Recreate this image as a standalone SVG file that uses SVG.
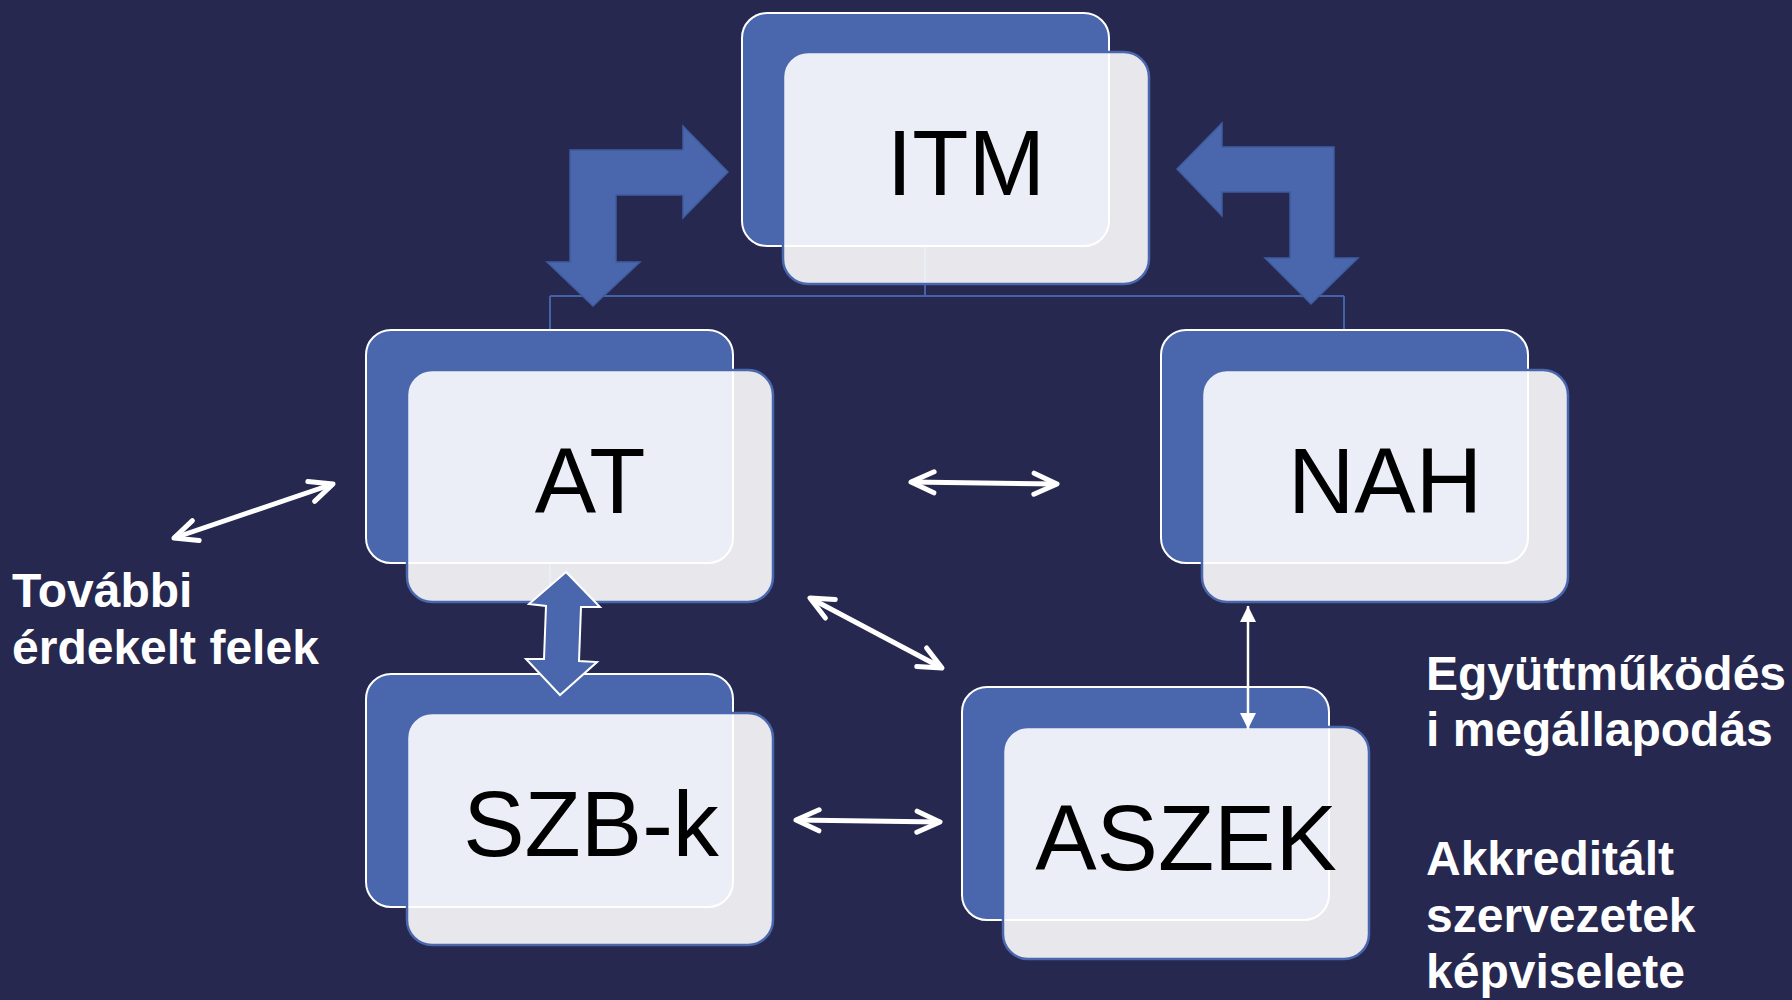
<svg xmlns="http://www.w3.org/2000/svg" width="1792" height="1000" viewBox="0 0 1792 1000">
<defs>
<style>
.back{fill:#4A67AD;stroke:#FFFFFF;stroke-width:2}
.front{fill:#FFFFFF;fill-opacity:0.89;stroke:#4A67AD;stroke-width:2.5}
.lbl{font-family:"Liberation Sans",Arial,sans-serif;font-size:92px;fill:#000000;text-anchor:middle}
.note{font-family:"Liberation Sans",Arial,sans-serif;font-size:48px;font-weight:bold;fill:#FFFFFF}
.conn{fill:none;stroke:#4462A8;stroke-width:2}
.block{fill:#4A67AD;stroke:#3F5C9F;stroke-width:1.5;stroke-linejoin:miter}
.blockw{fill:#4A67AD;stroke:#FFFFFF;stroke-width:2;stroke-linejoin:miter}
.thin{fill:none;stroke:#FFFFFF;stroke-width:5}
.thin2{fill:none;stroke:#FFFFFF;stroke-width:2.5}
</style>
<marker id="chev" markerUnits="userSpaceOnUse" viewBox="-30 -15 36 30" refX="0" refY="0" markerWidth="36" markerHeight="30" orient="auto-start-reverse" overflow="visible">
<path d="M-23,-10.5 L0,0 L-23,10.5" fill="none" stroke="#FFFFFF" stroke-width="5" stroke-linecap="round" stroke-linejoin="round"/>
</marker>
<marker id="tri" markerUnits="userSpaceOnUse" viewBox="-20 -10 22 20" refX="0" refY="0" markerWidth="22" markerHeight="20" orient="auto-start-reverse" overflow="visible">
<path d="M0,0 L-16,-8 L-16,8 Z" fill="#FFFFFF"/>
</marker>
</defs>
<rect x="0" y="0" width="1792" height="1000" fill="#262850"/>

<g id="connectors">
<path class="conn" d="M925,247 V296 M550,296 H1344 M550,296 V330 M1344,296 V330 M550,563 V674"/>
</g>

<g id="node-itm">
<rect class="back" x="742" y="13" width="367" height="233" rx="25"/>
<rect class="front" x="783" y="52" width="366" height="232" rx="25"/>
<text class="lbl" x="966" y="195">ITM</text>
</g>
<g id="node-at">
<rect class="back" x="366" y="330" width="367" height="233" rx="25"/>
<rect class="front" x="407" y="370" width="366" height="232" rx="25"/>
<text class="lbl" x="590" y="513">AT</text>
</g>
<g id="node-nah">
<rect class="back" x="1161" y="330" width="367" height="233" rx="25"/>
<rect class="front" x="1202" y="370" width="366" height="232" rx="25"/>
<text class="lbl" x="1385" y="513">NAH</text>
</g>
<g id="node-szb">
<rect class="back" x="366" y="674" width="367" height="233" rx="25"/>
<rect class="front" x="407" y="713" width="366" height="232" rx="25"/>
<text class="lbl" x="591" y="856">SZB-k</text>
</g>
<g id="node-aszek">
<rect class="back" x="962" y="687" width="367" height="233" rx="25"/>
<rect class="front" x="1003" y="727" width="366" height="232" rx="25"/>
<text class="lbl" x="1186" y="870">ASZEK</text>
</g>

<g id="arrows">
<polygon class="block" points="570,262 547,262 593,306 640,262 616,262 616,195 683,195 683,218 728,172 683,126 683,150 570,150"/>
<polygon class="block" points="1334,147 1334,258 1358,258 1311,304 1265,258 1290,258 1290,192 1222,192 1222,216 1177,169 1222,123 1222,147"/>
<polygon class="blockw" points="566,572 600,607 581,607 579,661 597,662 560,695 526,659 544,659 546,606 529,604"/>
<line class="thin" x1="174" y1="538" x2="333" y2="484" marker-start="url(#chev)" marker-end="url(#chev)"/>
<line class="thin" x1="911" y1="482" x2="1057" y2="484" marker-start="url(#chev)" marker-end="url(#chev)"/>
<line class="thin" x1="810" y1="598" x2="942" y2="668" marker-start="url(#chev)" marker-end="url(#chev)"/>
<line class="thin" x1="796" y1="820" x2="940" y2="822" marker-start="url(#chev)" marker-end="url(#chev)"/>
<line class="thin2" x1="1248" y1="606" x2="1248" y2="729" marker-start="url(#tri)" marker-end="url(#tri)"/>
</g>

<g id="text-left">
<text class="note" x="12" y="607">További</text>
<text class="note" x="12" y="664">érdekelt felek</text>
</g>
<g id="text-right">
<text class="note" x="1426" y="690">Együttműködés</text>
<text class="note" x="1426" y="746">i megállapodás</text>
<text class="note" x="1426" y="875">Akkreditált</text>
<text class="note" x="1426" y="932">szervezetek</text>
<text class="note" x="1426" y="988">képviselete</text>
</g>
</svg>
